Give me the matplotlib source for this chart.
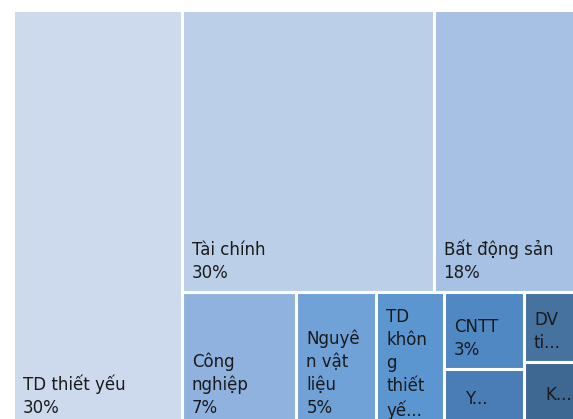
import matplotlib
matplotlib.use("Agg")
import matplotlib.pyplot as plt
from matplotlib.patches import Rectangle

# sector weights (%)
sectors = ["TD thiết yếu", "Tài chính", "Bất động sản", "Công nghiệp", "Nguyên vật liệu",
           "TD không thiết yếu", "CNTT", "Y tế", "DV tiện ích", "Khác"]
weights = [29.8, 30.0, 18.0, 6.6, 4.6, 3.9, 2.6, 2.0, 1.8, 1.7]

# text as it shows in each cell (wrapped / cut the way the chart does it)
shown = ["TD thiết yếu\n{p}", "Tài chính\n{p}", "Bất động sản\n{p}", "Công\nnghiệp\n{p}",
         "Nguyê\nn vật\nliệu\n{p}", "TD\nkhôn\ng\nthiết\nyế...", "CNTT\n{p}", "Y...",
         "DV\nti...", "K..."]

colors = ["#cddaee", "#bbcfe9", "#a7c1e4", "#8fb3de", "#70a1d7",
          "#5b96d0", "#5088c3", "#4a7db5", "#46729f", "#3e6791"]

# slice-and-dice structure: "x" splits left->right, "y" splits top->bottom
TREE = ("x", [0, ("y", [("x", [1, 2]),
                        ("x", [3, 4, 5, ("y", [6, 7]), ("y", [8, 9])])])])

FIG_W, FIG_H = 573, 419
FRAME = (13, 10.5, 571.7, 417.5)  # x, y(top), w, h in pixels
LABEL_FLOOR = 427                  # labels of cells cut by the bottom edge sit here


def total(node):
    if isinstance(node, int):
        return weights[node]
    return sum(total(n) for n in node[1])


def layout(node, x, y, w, h, out):
    if isinstance(node, int):
        out[node] = (x, y, w, h)
        return
    axis, kids = node
    s = total(node)
    pos = x if axis == "x" else y
    for k in kids:
        frac = total(k) / s
        if axis == "x":
            layout(k, pos, y, w * frac, h, out)
            pos += w * frac
        else:
            layout(k, x, pos, w, h * frac, out)
            pos += h * frac


def main() -> None:
    fig = plt.figure(figsize=(FIG_W / 100, FIG_H / 100), dpi=100)
    ax = fig.add_axes([0, 0, 1, 1])
    ax.set_xlim(0, FIG_W)
    ax.set_ylim(FIG_H, 0)
    ax.axis("off")

    rects = {}
    layout(TREE, *FRAME, rects)

    style = dict(ha="left", fontsize=12, color="#1a1a1a", linespacing=1.35)
    for i, name in enumerate(sectors):
        x, y, w, h = rects[i]
        ax.add_patch(Rectangle((x, y), w, h, facecolor=colors[i],
                               edgecolor="white", linewidth=2.2))
        txt = shown[i].format(p=f"{round(weights[i])}%")
        if txt.count("\n") >= 4:
            # too tall for the cell: hang from the top
            ax.text(x + 10, y + 16, txt, va="top", **style)
        elif "\n" not in txt:
            # cut-down single word sits a bit inward, mid-cell
            mid = (y + min(y + h, FIG_H)) / 2 + 5
            ax.text(x + 21, mid, txt, va="center", **style)
        else:
            bottom = min(y + h, LABEL_FLOOR)
            ax.text(x + 10, bottom - 10, txt, va="bottom", **style)

    fig.savefig("out.png", dpi=100)
    plt.close(fig)


if __name__ == "__main__":
    main()
